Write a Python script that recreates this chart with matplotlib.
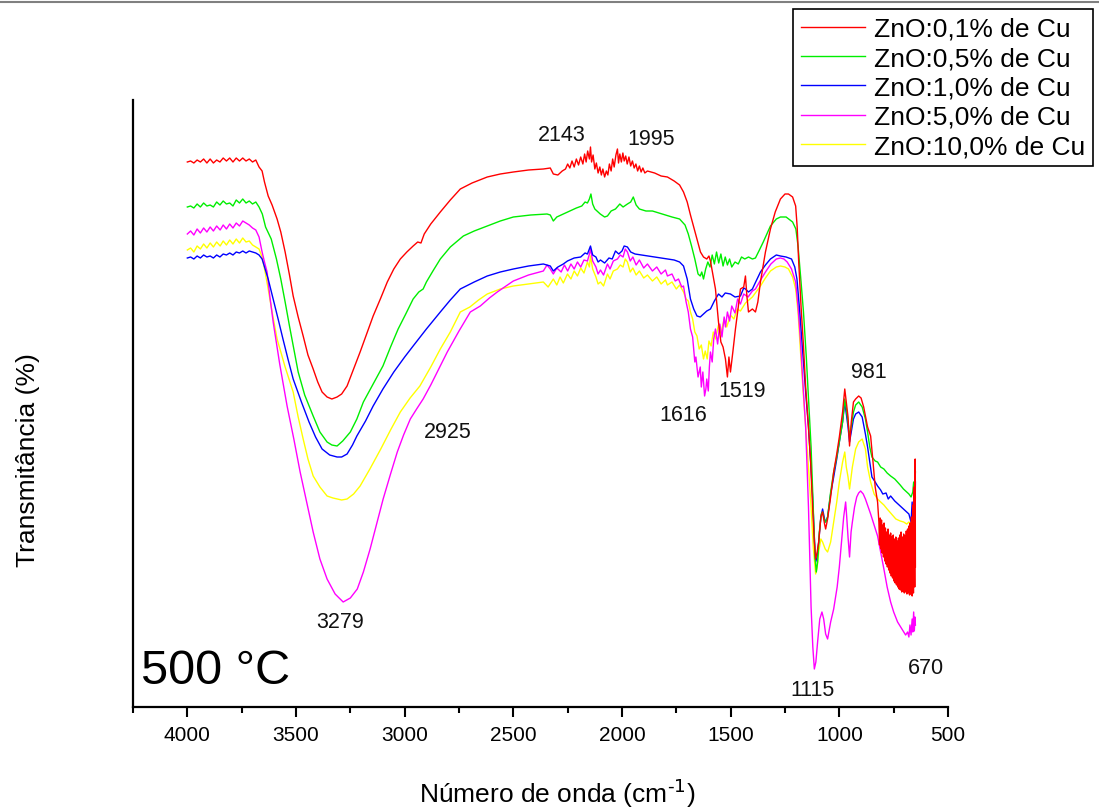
import matplotlib
matplotlib.use("Agg")
import matplotlib.pyplot as plt
from matplotlib.lines import Line2D
from matplotlib.ticker import MultipleLocator
import numpy as np

plt.rcParams['font.family'] = ['Liberation Sans', 'DejaVu Sans']

# espectros FTIR (numero de onda, transmitancia em unidades arbitrarias)
red = [
    (4000, 54.5), (3985, 54.6), (3970, 54.4), (3955, 54.7), (3940, 54.5), (3925, 54.8), (3910, 54.4),
    (3895, 54.8), (3880, 54.4), (3865, 54.7), (3850, 54.5), (3835, 54.9), (3820, 54.6), (3805, 54.9),
    (3790, 54.5), (3775, 54.9), (3760, 54.6), (3745, 54.9), (3730, 54.6), (3715, 54.8), (3700, 54.5),
    (3685, 54.7), (3670, 54.0), (3656, 53.6), (3645, 52.5), (3628, 51.1), (3610, 50.2), (3587, 48.8),
    (3570, 47.5), (3550, 45.5), (3530, 43.2), (3513, 41.1), (3490, 39.0), (3467, 37.1), (3445, 35.2),
    (3421, 33.8), (3400, 32.5), (3380, 31.5), (3357, 31.0), (3335, 30.8), (3311, 31.0), (3290, 31.3),
    (3265, 32.1), (3235, 33.8), (3205, 35.5), (3175, 37.3), (3145, 39.1), (3110, 40.9), (3080, 42.5),
    (3050, 43.8), (3020, 44.8), (2990, 45.5), (2961, 46.1), (2940, 46.5), (2925, 46.4), (2910, 47.3),
    (2880, 48.3), (2836, 49.5), (2790, 50.7), (2744, 51.8), (2690, 52.4), (2620, 53.0), (2560, 53.3),
    (2500, 53.5), (2430, 53.7), (2362, 53.8), (2330, 53.9), (2316, 53.3), (2295, 53.2), (2275, 53.6),
    (2260, 53.8), (2250, 54.3), (2240, 53.9), (2230, 54.6), (2220, 54.0), (2210, 54.8), (2200, 54.2),
    (2190, 55.0), (2180, 54.3), (2172, 55.3), (2165, 54.5), (2158, 55.6), (2150, 54.8), (2145, 56.0),
    (2140, 54.5), (2133, 55.2), (2125, 53.8), (2118, 54.4), (2110, 53.4), (2102, 54.0), (2095, 53.2),
    (2088, 53.8), (2080, 53.0), (2072, 53.6), (2065, 53.2), (2058, 54.3), (2050, 53.6), (2043, 54.8),
    (2036, 54.0), (2028, 55.2), (2021, 55.8), (2016, 54.4), (2010, 55.3), (2003, 54.5), (1996, 55.4),
    (1990, 54.6), (1983, 55.1), (1976, 54.3), (1968, 55.0), (1960, 54.1), (1952, 54.6), (1944, 53.9),
    (1936, 54.3), (1928, 53.6), (1920, 54.1), (1912, 53.5), (1904, 53.9), (1895, 53.4), (1883, 53.6),
    (1850, 53.4), (1820, 53.1), (1791, 53.0), (1760, 52.6), (1735, 52.2), (1717, 51.5), (1700, 50.5),
    (1685, 49.2), (1670, 48.0), (1655, 46.8), (1639, 45.5), (1625, 45.0), (1610, 44.8), (1600, 45.1),
    (1593, 44.6), (1580, 43.0), (1570, 41.8), (1556, 38.5), (1545, 36.5), (1535, 36.0), (1524, 34.8),
    (1515, 33.0), (1508, 35.0), (1501, 33.5), (1490, 35.5), (1478, 37.8), (1465, 40.0), (1455, 41.8),
    (1440, 42.0), (1432, 43.1), (1425, 41.0), (1418, 39.5), (1400, 39.8), (1386, 39.5), (1375, 40.5),
    (1363, 42.5), (1340, 45.5), (1317, 47.8), (1295, 49.5), (1271, 50.8), (1250, 51.3), (1234, 51.3),
    (1215, 51.0), (1201, 50.1), (1194, 48.0), (1187, 44.5), (1176, 40.0), (1165, 36.1), (1155, 32.0),
    (1142, 28.0), (1132, 24.5), (1123, 20.0), (1115, 16.5), (1109, 14.8), (1102, 15.5), (1095, 16.5),
    (1085, 19.0), (1077, 19.5), (1068, 18.3), (1063, 17.8), (1054, 18.8), (1040, 21.0), (1026, 23.5),
    (1012, 25.3), (1000, 27.0), (985, 29.5), (975, 31.8), (968, 30.5), (960, 29.0), (953, 26.1),
    (945, 28.5), (935, 30.5), (925, 30.8), (911, 31.1), (900, 30.9), (888, 30.0), (870, 28.0),
    (856, 27.1), (845, 24.5), (835, 22.0), (824, 20.5), (818, 18.5), (815, 16.2), (812, 18.9),
    (809, 15.8), (806, 18.7), (803, 15.4), (800, 18.2), (797, 15.0), (794, 18.4), (791, 14.6),
    (788, 17.9), (785, 14.3), (782, 17.5), (779, 14.0), (776, 17.8), (773, 13.7), (770, 17.2),
    (767, 13.4), (764, 17.4), (761, 13.1), (758, 17.0), (755, 12.9), (752, 17.2), (749, 12.6),
    (746, 16.8), (743, 12.4), (740, 17.0), (737, 12.2), (734, 16.6), (731, 12.0), (728, 16.9),
    (725, 11.8), (722, 17.2), (719, 11.7), (716, 17.5), (713, 11.5), (710, 17.0), (707, 11.6),
    (704, 17.3), (701, 11.4), (698, 17.1), (695, 11.5), (692, 17.6), (689, 11.3), (686, 17.8),
    (683, 11.4), (680, 18.1), (677, 11.2), (674, 18.4), (671, 11.3), (668, 19.0), (665, 11.1),
    (662, 20.2), (659, 11.4), (656, 22.0), (653, 12.0), (651, 24.8), (650, 14.0),
]

green = [
    (4000, 50.0), (3985, 50.1), (3970, 49.9), (3955, 50.3), (3940, 50.0), (3925, 50.4), (3910, 50.1),
    (3895, 50.2), (3880, 50.0), (3865, 50.5), (3850, 50.2), (3835, 50.6), (3820, 50.3), (3805, 50.4),
    (3790, 50.1), (3775, 50.7), (3760, 50.4), (3745, 50.8), (3730, 50.4), (3715, 50.6), (3700, 50.3),
    (3685, 50.5), (3670, 50.0), (3655, 49.3), (3640, 48.0), (3614, 46.8), (3590, 44.8), (3570, 42.8),
    (3550, 40.5), (3530, 38.1), (3510, 35.8), (3490, 33.5), (3460, 31.2), (3421, 29.1), (3390, 27.5),
    (3357, 26.5), (3335, 26.2), (3311, 26.1), (3285, 26.6), (3250, 27.5), (3220, 28.8), (3190, 30.5),
    (3145, 32.3), (3100, 34.1), (3065, 36.0), (3030, 37.8), (2995, 39.3), (2961, 40.8), (2935, 41.5),
    (2915, 41.8), (2900, 42.5), (2870, 43.6), (2836, 44.8), (2790, 46.0), (2730, 47.1), (2680, 47.6),
    (2620, 48.1), (2560, 48.6), (2500, 49.0), (2420, 49.2), (2345, 49.3), (2330, 49.2), (2316, 48.6),
    (2300, 49.0), (2270, 49.3), (2240, 49.6), (2210, 49.9), (2185, 50.1), (2170, 50.5), (2159, 50.4),
    (2150, 50.8), (2143, 51.3), (2135, 50.3), (2125, 49.8), (2100, 49.3), (2080, 49.0), (2067, 49.1),
    (2050, 49.6), (2030, 49.8), (2010, 50.3), (1995, 50.0), (1975, 50.3), (1960, 50.5), (1948, 51.0),
    (1935, 50.2), (1920, 49.8), (1890, 49.6), (1860, 49.6), (1830, 49.4), (1800, 49.2), (1770, 49.0),
    (1735, 48.8), (1710, 48.2), (1695, 47.3), (1680, 46.1), (1665, 44.8), (1650, 43.3), (1640, 43.1),
    (1633, 43.5), (1625, 42.8), (1615, 43.8), (1605, 44.5), (1595, 44.0), (1585, 45.2), (1575, 44.3),
    (1565, 45.5), (1555, 44.4), (1545, 45.3), (1535, 44.1), (1525, 45.0), (1515, 44.2), (1505, 44.8),
    (1495, 44.0), (1480, 44.5), (1465, 44.3), (1450, 45.0), (1435, 44.8), (1418, 45.0), (1400, 44.8),
    (1386, 44.9), (1370, 45.6), (1350, 46.5), (1317, 48.1), (1290, 48.8), (1271, 49.0), (1245, 49.0),
    (1215, 48.5), (1200, 47.8), (1190, 46.1), (1178, 43.0), (1165, 39.5), (1152, 35.0), (1142, 31.0),
    (1130, 26.0), (1120, 20.0), (1112, 15.0), (1106, 13.5), (1100, 14.5), (1092, 17.5), (1083, 19.3),
    (1077, 19.5), (1068, 18.6), (1063, 18.5), (1054, 19.0), (1040, 21.5), (1026, 23.5), (1012, 25.0),
    (1000, 26.5), (985, 28.5), (975, 30.8), (968, 29.8), (960, 28.5), (953, 27.1), (945, 28.0),
    (935, 29.5), (925, 30.2), (911, 30.5), (895, 30.0), (880, 28.8), (870, 27.5), (860, 26.0),
    (850, 25.0), (835, 24.6), (824, 24.5), (810, 24.0), (795, 23.8), (780, 23.4), (764, 23.1),
    (745, 22.8), (720, 22.2), (705, 21.8), (690, 21.5), (680, 21.3), (670, 21.0), (662, 21.5),
    (658, 22.5), (654, 21.5), (650, 23.5),
]

blue = [
    (4000, 44.9), (3985, 45.0), (3970, 44.8), (3955, 45.1), (3940, 44.9), (3925, 45.2), (3910, 45.0),
    (3895, 45.1), (3880, 44.9), (3865, 45.2), (3850, 45.0), (3835, 45.3), (3820, 45.2), (3805, 45.4),
    (3790, 45.2), (3775, 45.5), (3760, 45.4), (3745, 45.6), (3730, 45.4), (3715, 45.6), (3700, 45.5),
    (3685, 45.4), (3670, 45.2), (3656, 44.8), (3642, 43.8), (3628, 42.8), (3605, 40.8), (3580, 38.6),
    (3560, 36.8), (3537, 34.8), (3513, 32.8), (3475, 30.5), (3440, 28.5), (3410, 27.0), (3380, 25.8),
    (3345, 25.2), (3311, 25.0), (3290, 25.0), (3265, 25.3), (3240, 26.2), (3220, 27.1), (3180, 28.6),
    (3145, 30.1), (3100, 31.8), (3050, 33.5), (3000, 35.0), (2961, 36.1), (2900, 37.8), (2836, 39.5),
    (2790, 40.7), (2744, 41.8), (2680, 42.5), (2620, 43.1), (2560, 43.5), (2500, 43.8), (2430, 44.1),
    (2362, 44.3), (2330, 44.1), (2316, 43.6), (2295, 44.0), (2270, 44.3), (2251, 44.6), (2220, 44.9),
    (2190, 45.0), (2170, 45.4), (2159, 45.3), (2150, 45.8), (2145, 46.1), (2135, 45.2), (2120, 45.0),
    (2110, 44.5), (2099, 44.7), (2080, 44.4), (2060, 44.9), (2045, 44.8), (2030, 45.6), (2015, 45.3),
    (2000, 45.6), (1990, 46.1), (1975, 46.0), (1960, 45.5), (1940, 45.3), (1910, 45.2), (1883, 45.1),
    (1850, 45.0), (1820, 44.9), (1791, 44.8), (1760, 44.7), (1735, 44.5), (1717, 44.1), (1700, 42.8),
    (1685, 40.8), (1670, 39.8), (1655, 39.1), (1640, 39.0), (1625, 39.3), (1610, 39.6), (1593, 39.8),
    (1575, 40.6), (1556, 41.3), (1540, 41.0), (1525, 41.4), (1501, 41.3), (1480, 41.0), (1455, 41.1),
    (1440, 41.9), (1432, 41.8), (1418, 41.5), (1400, 41.8), (1385, 42.5), (1363, 43.5), (1340, 44.2),
    (1317, 44.8), (1290, 45.2), (1271, 45.1), (1245, 45.0), (1220, 44.8), (1205, 44.0), (1195, 42.8),
    (1182, 39.5), (1170, 36.0), (1155, 31.5), (1142, 28.0), (1132, 24.5), (1123, 21.0), (1115, 17.0),
    (1109, 14.5), (1102, 15.0), (1095, 16.5), (1085, 19.0), (1077, 19.8), (1068, 18.8), (1063, 18.5),
    (1054, 19.0), (1040, 21.3), (1026, 23.0), (1012, 24.8), (1000, 26.5), (985, 28.5), (975, 30.5),
    (968, 29.3), (960, 28.0), (953, 26.5), (945, 27.5), (935, 28.8), (925, 29.3), (911, 29.5),
    (895, 29.0), (880, 27.3), (870, 26.0), (860, 24.5), (850, 23.0), (835, 22.5), (824, 22.1),
    (810, 21.7), (800, 21.3), (785, 21.4), (775, 20.8), (764, 21.1), (745, 20.6), (720, 20.1),
    (705, 19.8), (690, 19.5), (680, 19.3), (670, 18.5), (665, 20.5), (660, 18.2), (656, 21.5),
    (652, 18.6), (650, 22.5),
]

magenta = [
    (4000, 47.3), (3985, 47.6), (3970, 47.2), (3955, 47.8), (3940, 47.4), (3925, 47.9), (3910, 47.5),
    (3895, 48.0), (3880, 47.6), (3865, 48.1), (3849, 47.7), (3835, 48.2), (3820, 47.8), (3805, 48.3),
    (3790, 47.9), (3775, 48.4), (3760, 48.1), (3745, 48.6), (3730, 48.4), (3715, 48.2), (3700, 47.9),
    (3685, 47.7), (3670, 47.0), (3656, 45.5), (3645, 44.5), (3633, 43.5), (3620, 41.0), (3605, 38.5),
    (3575, 34.3), (3541, 30.1), (3510, 26.8), (3481, 23.5), (3450, 20.4), (3421, 17.5), (3390, 14.8),
    (3357, 12.8), (3320, 11.3), (3283, 10.5), (3250, 10.9), (3218, 11.8), (3190, 13.5), (3159, 15.8),
    (3130, 18.2), (3099, 20.8), (3065, 23.3), (3034, 25.5), (3005, 27.2), (2974, 28.8), (2945, 29.8),
    (2915, 30.8), (2880, 32.2), (2850, 33.5), (2825, 34.6), (2804, 35.5), (2750, 37.6), (2698, 39.5),
    (2652, 40.1), (2610, 40.9), (2574, 41.5), (2500, 42.6), (2430, 43.2), (2362, 43.6), (2345, 44.2),
    (2330, 43.8), (2316, 43.3), (2300, 43.9), (2280, 43.5), (2265, 44.2), (2250, 43.6), (2235, 44.3),
    (2220, 43.8), (2205, 44.5), (2190, 44.0), (2175, 44.7), (2159, 44.6), (2150, 45.3), (2145, 45.8),
    (2135, 44.6), (2120, 44.0), (2110, 43.3), (2099, 43.7), (2085, 43.2), (2067, 44.3), (2055, 43.8),
    (2040, 44.6), (2021, 44.8), (2008, 45.2), (1995, 45.0), (1985, 45.8), (1975, 45.5), (1962, 44.6),
    (1950, 45.0), (1935, 44.2), (1920, 44.7), (1900, 43.9), (1883, 44.3), (1860, 43.6), (1840, 44.0),
    (1820, 43.3), (1800, 43.7), (1791, 43.1), (1770, 43.3), (1755, 42.6), (1740, 42.8), (1725, 42.0),
    (1717, 42.1), (1705, 40.5), (1695, 39.5), (1685, 37.8), (1675, 37.0), (1665, 34.5), (1660, 35.0),
    (1650, 33.0), (1640, 34.0), (1635, 32.0), (1628, 33.5), (1620, 31.1), (1614, 31.8), (1610, 32.8),
    (1603, 31.6), (1598, 34.0), (1593, 35.5), (1585, 34.5), (1578, 36.8), (1570, 37.8), (1560, 36.3),
    (1550, 38.3), (1540, 37.0), (1530, 39.0), (1524, 38.0), (1515, 39.5), (1505, 38.6), (1495, 40.1),
    (1480, 39.4), (1468, 40.8), (1455, 40.3), (1440, 41.3), (1420, 41.0), (1400, 41.6), (1386, 41.8),
    (1365, 42.6), (1340, 43.5), (1315, 44.3), (1290, 44.8), (1271, 44.9), (1255, 44.8), (1240, 44.5),
    (1220, 43.8), (1201, 42.5), (1190, 40.0), (1180, 37.0), (1168, 32.5), (1155, 28.0), (1142, 20.0),
    (1136, 15.0), (1130, 10.0), (1122, 6.0), (1115, 3.8), (1108, 4.5), (1100, 6.5), (1090, 8.8),
    (1080, 9.5), (1072, 8.8), (1063, 7.3), (1054, 6.8), (1046, 7.8), (1040, 8.5), (1026, 9.8),
    (1010, 12.0), (1000, 14.0), (990, 16.5), (980, 19.0), (971, 20.5), (966, 19.0), (960, 17.0),
    (953, 15.0), (946, 17.5), (940, 18.5), (930, 20.0), (920, 21.0), (911, 21.4), (902, 21.6),
    (890, 21.3), (880, 20.8), (856, 19.3), (840, 18.2), (824, 17.1), (810, 15.5), (795, 13.8),
    (780, 12.0), (764, 10.5), (750, 9.5), (732, 8.5), (715, 7.9), (704, 7.5), (695, 7.2), (686, 7.5),
    (680, 7.0), (675, 8.2), (670, 7.2), (665, 8.8), (662, 7.5), (658, 9.5), (655, 7.6), (652, 9.0),
    (650, 8.2),
]

yellow = [
    (4000, 45.7), (3985, 45.9), (3970, 45.5), (3955, 46.1), (3940, 45.8), (3925, 46.3), (3910, 45.9),
    (3895, 46.4), (3880, 46.0), (3865, 46.5), (3849, 46.1), (3835, 46.6), (3820, 46.2), (3805, 46.7),
    (3790, 46.3), (3775, 46.8), (3760, 46.4), (3745, 46.9), (3730, 46.5), (3715, 46.6), (3700, 46.2),
    (3685, 46.0), (3670, 45.8), (3656, 45.0), (3642, 43.5), (3628, 41.8), (3610, 39.5), (3587, 36.8),
    (3550, 34.0), (3513, 31.5), (3490, 29.0), (3467, 26.8), (3445, 24.8), (3421, 23.1), (3390, 22.0),
    (3357, 21.1), (3330, 20.9), (3311, 20.8), (3290, 20.7), (3265, 20.8), (3235, 21.3), (3205, 22.1),
    (3160, 23.8), (3110, 25.8), (3065, 27.7), (3020, 29.5), (2975, 30.9), (2930, 32.1), (2880, 34.0),
    (2836, 35.8), (2790, 37.5), (2744, 39.5), (2700, 40.0), (2660, 40.7), (2620, 41.3), (2560, 41.8),
    (2500, 42.1), (2430, 42.3), (2362, 42.5), (2340, 42.0), (2316, 42.8), (2300, 42.2), (2285, 43.0),
    (2270, 42.4), (2251, 43.3), (2235, 42.8), (2220, 43.6), (2205, 43.1), (2190, 43.9), (2175, 43.4),
    (2159, 44.5), (2150, 44.0), (2145, 45.1), (2135, 43.8), (2120, 43.0), (2110, 42.3), (2099, 42.5),
    (2085, 42.1), (2067, 43.3), (2055, 42.8), (2040, 43.6), (2021, 43.8), (2008, 44.2), (1995, 44.0),
    (1985, 44.8), (1975, 44.5), (1962, 43.5), (1950, 43.9), (1935, 43.2), (1920, 43.6), (1900, 42.9),
    (1883, 43.2), (1860, 42.6), (1840, 43.0), (1820, 42.3), (1800, 42.7), (1791, 42.2), (1770, 42.5),
    (1750, 41.8), (1735, 42.2), (1717, 41.5), (1705, 40.8), (1695, 40.6), (1685, 39.5), (1675, 38.8),
    (1665, 37.5), (1655, 37.1), (1645, 35.8), (1635, 36.2), (1625, 34.8), (1617, 35.6), (1608, 34.8),
    (1600, 36.6), (1590, 36.1), (1580, 37.5), (1570, 36.8), (1556, 38.2), (1545, 37.4), (1530, 38.8),
    (1518, 38.0), (1501, 39.2), (1485, 38.8), (1470, 39.8), (1455, 39.6), (1432, 40.4), (1400, 41.0),
    (1363, 42.1), (1340, 42.9), (1317, 43.6), (1290, 44.0), (1271, 44.1), (1250, 44.0), (1234, 43.8),
    (1215, 43.0), (1201, 41.8), (1190, 39.5), (1180, 36.0), (1168, 32.0), (1155, 28.0), (1142, 24.0),
    (1130, 20.0), (1120, 16.0), (1109, 13.3), (1102, 14.0), (1095, 15.5), (1085, 16.8), (1077, 16.5),
    (1065, 15.8), (1054, 15.5), (1040, 16.5), (1026, 18.5), (1012, 20.5), (1000, 22.5), (985, 24.5),
    (975, 25.5), (968, 24.0), (960, 23.0), (953, 21.8), (946, 23.0), (940, 24.0), (925, 25.8),
    (911, 26.5), (895, 26.8), (880, 25.8), (870, 24.0), (856, 22.5), (840, 21.3), (824, 20.8),
    (810, 20.5), (795, 20.2), (780, 19.8), (760, 19.3), (740, 18.8), (720, 18.6), (704, 18.5),
    (690, 18.3), (680, 18.5), (670, 18.2), (665, 19.8), (660, 18.8), (656, 20.5), (652, 19.5), (650, 21.0),
]

series = [
    ('ZnO:0,1% de Cu', red, '#ff0000'),
    ('ZnO:0,5% de Cu', green, '#00ee00'),
    ('ZnO:1,0% de Cu', blue, '#0000ff'),
    ('ZnO:5,0% de Cu', magenta, '#ff00ff'),
    ('ZnO:10,0% de Cu', yellow, '#ffff00'),
]

# picos anotados: (texto, numero de onda, transmitancia)
picos = [
    ('2143', 2279, 57.3), ('1995', 1865, 56.9), ('2925', 2804, 27.6), ('3279', 3297, 8.6),
    ('1616', 1717, 29.3), ('1519', 1446, 31.7), ('981', 865, 33.6), ('1115', 1123, 1.8),
    ('670', 603, 4.0),
]

fig = plt.figure(figsize=(10.99, 8.12), dpi=100)
ax = fig.add_axes([133 / 1099, 1 - 708 / 812, 815 / 1099, 607 / 812])

handles = []
for i, (nome, pts, cor) in enumerate(series):
    pts = np.array(pts)
    h, = ax.plot(pts[:, 0], pts[:, 1], color=cor, lw=1.0, label=nome, zorder=10 - i)
    handles.append(h)

for txt, x, y in picos:
    ax.text(x, y, txt, fontsize=15.5, ha='center', va='center', color='#111111')

ax.text(0.01, 0.06, '500 °C', transform=ax.transAxes, fontsize=35, ha='left', va='center')

ax.set_xlim(4250, 500)
ax.set_ylim(0, 60.7)
ax.set_xticks(np.arange(4000, 499, -500))
ax.xaxis.set_minor_locator(MultipleLocator(250))
ax.set_yticks([])
ax.tick_params(axis='x', which='major', direction='out', length=7, width=1.5, labelsize=15, pad=6)
ax.tick_params(axis='x', which='minor', direction='out', length=4, width=1.5)
for s in ['top', 'right']:
    ax.spines[s].set_visible(False)
for s in ['left', 'bottom']:
    ax.spines[s].set_linewidth(1.6)

ax.set_xlabel('Número de onda (cm$^{\\text{-1}}$)', fontsize=19, va='center')
ax.xaxis.set_label_coords((557 - 133) / 815, -(793 - 708) / 607)
ax.set_ylabel('Transmitância (%)', fontsize=19, va='center')
ax.yaxis.set_label_coords(-(133 - 28) / 815, (708 - 460) / 607)

leg = fig.legend(handles=handles, loc='upper right', bbox_to_anchor=(1093 / 1099, 1 - 10 / 812),
                 fontsize=19, frameon=True, fancybox=False, edgecolor='black', framealpha=1,
                 handlelength=2.4, handletextpad=0.35, labelspacing=0.2, borderpad=0.3,
                 borderaxespad=0)
leg.get_frame().set_linewidth(1.2)

# linha cinza no topo da figura
fig.add_artist(Line2D([0, 1], [1 - 3 / 812, 1 - 3 / 812], color='#808080', lw=1.5))

fig.savefig('out.png', dpi=100)
